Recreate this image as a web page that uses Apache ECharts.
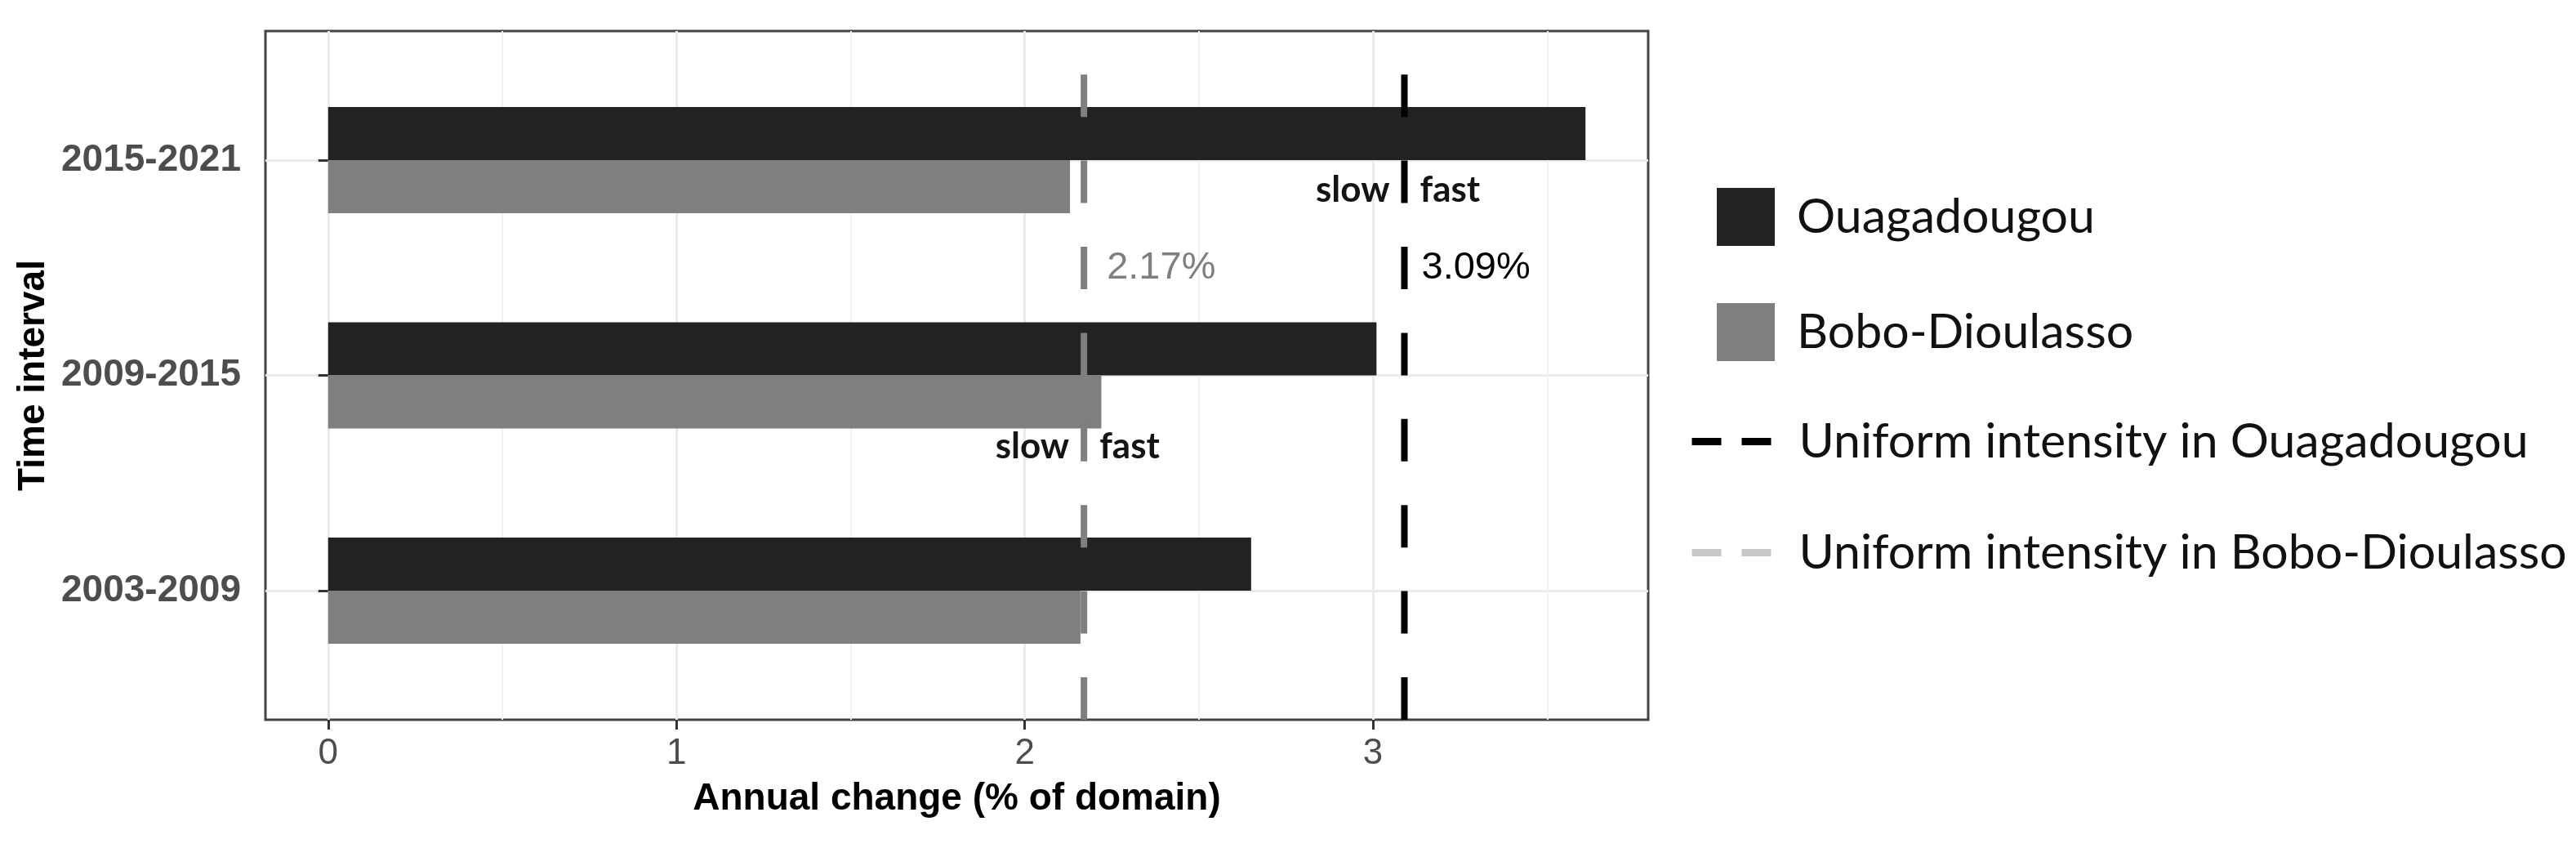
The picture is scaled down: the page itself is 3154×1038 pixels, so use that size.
<!DOCTYPE html>
<html>
<head>
<meta charset="utf-8">
<script src="https://cdn.jsdelivr.net/npm/echarts@6/dist/echarts.min.js"></script>
<style>
  html, body { margin: 0; padding: 0; background: #fff; }
  #chart { width: 3154px; height: 1038px; }
</style>
</head>
<body>
<div id="chart"></div>
<script>
// data
const categories = ['2003-2009', '2009-2015', '2015-2021'];
const ouagaValues = [2.65, 3.01, 3.61];
const boboValues = [2.16, 2.22, 2.13];
const uniformOuaga = 3.09;
const uniformBobo = 2.17;
const xTicks = [0, 1, 2, 3];
const xMinorTicks = [0.5, 1.5, 2.5, 3.5];
const xRange = [-0.18, 3.79];
// value scale behind the categories (1, 2, 3 = category centres)
const yGridValues = [1, 2, 3];
const yRange = [0.4, 3.6];
// rows of the slow / fast and percent notes on that scale
const ouagaNoteRow = 2.86;
const boboNoteRow = 1.67;
const percentRow = 2.5;

const axisFont = 'Liberation Sans, Arial, sans-serif';
const noteFont = 'Lato, sans-serif';

const chartInit = () => {
  const $chartEl = document.getElementById('chart');
  const chart = echarts.init($chartEl);

  const uniformLine = value => [[value, yRange[0]], [value, yRange[1]]];

  const notes = (value, row, color) => [
    {
      coord: [value, row],
      label: { formatter: 'slow', position: 'left', distance: 18 }
    },
    {
      coord: [value, row],
      label: { formatter: 'fast', position: 'right', distance: 19 }
    },
    {
      coord: [value, percentRow],
      label: {
        formatter: value.toFixed(2) + '%',
        position: 'right',
        distance: color === '#000000' ? 21 : 28,
        fontFamily: axisFont,
        fontWeight: 'normal',
        fontSize: 47,
        color
      }
    }
  ];

  const markPoint = (value, row, color) => ({
    symbol: 'circle',
    symbolSize: 0,
    silent: true,
    label: {
      show: true,
      fontFamily: noteFont,
      fontWeight: 'bold',
      fontSize: 44,
      color: '#141414'
    },
    data: notes(value, row, color)
  });

  const option = {
    animation: false,
    backgroundColor: '#ffffff',
    grid: [
      { left: 325, right: 1136, top: 38, bottom: 157, show: true, borderColor: '#444444', borderWidth: 3 },
      { left: 325, right: 1136, top: 64.4, bottom: 183.4 }
    ],
    legend: [
      {
        orient: 'vertical',
        left: 2097,
        top: 225,
        itemWidth: 71,
        itemHeight: 71,
        itemGap: 70,
        icon: 'rect',
        selectedMode: false,
        data: ['Ouagadougou', 'Bobo-Dioulasso'],
        textStyle: { fontFamily: noteFont, fontSize: 59, color: '#111111', padding: [0, 0, 0, 22] }
      },
      {
        orient: 'vertical',
        left: 2062,
        top: 506,
        itemWidth: 100,
        itemHeight: 71,
        itemGap: 77,
        selectedMode: false,
        lineStyle: { type: [36, 25], width: 9 },
        itemStyle: { opacity: 0 },
        data: [
          { name: 'Uniform intensity in Ouagadougou', lineStyle: { color: '#000000' } },
          { name: 'Uniform intensity in Bobo-Dioulasso', lineStyle: { color: '#c8c8c8' } }
        ],
        textStyle: { fontFamily: noteFont, fontSize: 59, color: '#111111', padding: [0, 0, 0, 26] }
      }
    ],
    xAxis: [
      {
        gridIndex: 0,
        type: 'value',
        min: xRange[0],
        max: xRange[1],
        position: 'bottom',
        axisLine: { show: false },
        axisTick: {
          show: true,
          length: 12,
          customValues: xTicks,
          lineStyle: { color: '#333333', width: 3 }
        },
        axisLabel: {
          customValues: xTicks,
          margin: 20,
          fontFamily: axisFont,
          fontSize: 44,
          color: '#4d4d4d'
        },
        splitLine: { show: true, lineStyle: { color: '#ebebeb', width: 3 } },
        name: 'Annual change (% of domain)',
        nameLocation: 'middle',
        nameGap: 74,
        nameTextStyle: { fontFamily: axisFont, fontWeight: 'bold', fontSize: 46, color: '#000000' }
      },
      {
        gridIndex: 0,
        type: 'value',
        min: xRange[0],
        max: xRange[1],
        position: 'top',
        axisLine: { show: false },
        axisTick: { show: false, customValues: xMinorTicks },
        axisLabel: { show: false },
        splitLine: { show: true, lineStyle: { color: '#f2f2f2', width: 2 } }
      },
      {
        gridIndex: 1,
        type: 'value',
        min: xRange[0],
        max: xRange[1],
        show: false
      }
    ],
    yAxis: [
      {
        gridIndex: 0,
        type: 'value',
        min: yRange[0],
        max: yRange[1],
        axisLine: { show: false },
        axisTick: { show: false, customValues: yGridValues },
        axisLabel: { show: false },
        splitLine: { show: true, lineStyle: { color: '#ebebeb', width: 3 } }
      },
      {
        gridIndex: 1,
        type: 'category',
        data: categories,
        axisLine: { show: false },
        axisTick: {
          show: true,
          alignWithLabel: true,
          length: 12,
          lineStyle: { color: '#333333', width: 3 }
        },
        axisLabel: {
          margin: 30,
          fontFamily: axisFont,
          fontWeight: 'bold',
          fontSize: 46,
          color: '#4d4d4d'
        },
        splitLine: { show: false },
        name: 'Time interval',
        nameLocation: 'middle',
        nameGap: 255,
        nameTextStyle: { fontFamily: axisFont, fontWeight: 'bold', fontSize: 46, color: '#000000' }
      }
    ],
    series: [
      {
        name: 'Ouagadougou',
        type: 'bar',
        xAxisIndex: 2,
        yAxisIndex: 1,
        data: ouagaValues,
        barWidth: 65,
        barGap: '0%',
        itemStyle: { color: '#222222' }
      },
      {
        name: 'Bobo-Dioulasso',
        type: 'bar',
        xAxisIndex: 2,
        yAxisIndex: 1,
        data: boboValues,
        barWidth: 65,
        barGap: '0%',
        itemStyle: { color: '#7f7f7f' }
      },
      {
        name: 'Uniform intensity in Ouagadougou',
        type: 'line',
        xAxisIndex: 0,
        yAxisIndex: 0,
        data: uniformLine(uniformOuaga),
        symbol: 'none',
        silent: true,
        lineStyle: { color: '#000000', width: 8, type: [52, 53.4] },
        itemStyle: { color: '#000000' },
        markPoint: markPoint(uniformOuaga, ouagaNoteRow, '#000000')
      },
      {
        name: 'Uniform intensity in Bobo-Dioulasso',
        type: 'line',
        xAxisIndex: 0,
        yAxisIndex: 0,
        data: uniformLine(uniformBobo),
        symbol: 'none',
        silent: true,
        lineStyle: { color: '#7f7f7f', width: 8, type: [52, 53.4] },
        itemStyle: { color: '#7f7f7f' },
        markPoint: markPoint(uniformBobo, boboNoteRow, '#7f7f7f')
      }
    ]
  };

  chart.setOption(option);
};

chartInit();
</script>
</body>
</html>
